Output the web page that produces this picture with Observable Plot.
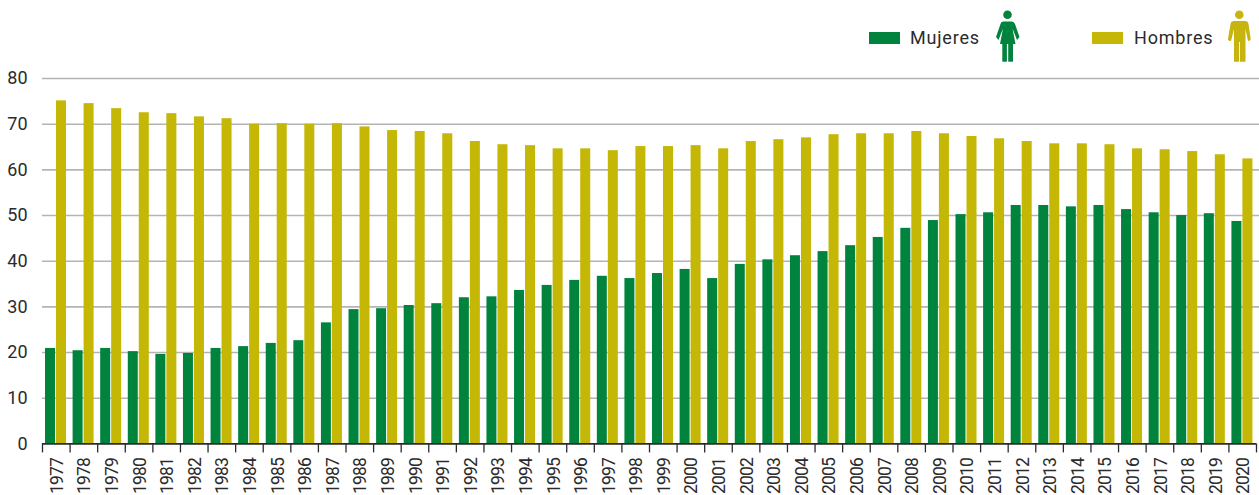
<!DOCTYPE html>
<html lang="es">
<head>
<meta charset="utf-8">
<script src="https://cdn.jsdelivr.net/npm/d3@7"></script>
<script src="https://cdn.jsdelivr.net/npm/@observablehq/plot@0.6"></script>
<style>
html,body{margin:0;padding:0;background:#fff;overflow:hidden}
#legend{position:relative;width:1259px;height:60px;font-family:Roboto,sans-serif;font-size:18px;color:#2b2b2b;letter-spacing:.8px}
#legend>*{position:absolute}
.sw{width:31px;height:12px;top:32px}
.lb{top:27px;line-height:22px}
svg.ic{top:10px;width:24px;height:52px;overflow:visible}
#chart svg{display:block}
#chart g[aria-label="x-axis tick label"] text{letter-spacing:-.8px}
</style>
</head>
<body>
<div id="legend">
  <div class="sw" style="left:869px;background:#00843d"></div>
  <div class="lb" style="left:910px">Mujeres</div>
  <svg class="ic" style="left:996px" viewBox="0 0 24 52"><g fill="#00843d"><circle cx="11.5" cy="4.7" r="4.3"/><path d="M7 11.5H16Q18 11.5 19 14L23.5 27L21 30L16.5 18.5L19.5 34H4L7 18.5L2.5 30L0 27L4.5 14Q5 11.5 7 11.5Z"/><rect x="6.3" y="33" width="4.6" height="18.7"/><rect x="12.2" y="33" width="4.8" height="18.7"/></g></svg>
  <div class="sw" style="left:1092px;background:#c4b705"></div>
  <div class="lb" style="left:1134px">Hombres</div>
  <svg class="ic" style="left:1228px" viewBox="0 0 24 52"><g fill="#c8b40f"><circle cx="11.3" cy="4.7" r="4.3"/><path d="M6 11H17Q20 11 20.5 14L22.7 29Q22.7 31 20 31L17.5 19V51.7H12V32H11V51.7H6V19L3 31Q0 31 0 29L2.5 14Q3 11 6 11Z"/></g></svg>
</div>
<div id="chart"></div>
<script>
const years = d3.range(1977, 2021);
const mujeres = [20.9,20.4,20.9,20.2,19.6,19.8,20.9,21.3,22.0,22.6,26.5,29.4,29.6,30.3,30.7,32.0,32.2,33.6,34.7,35.8,36.7,36.2,37.3,38.2,36.2,39.3,40.3,41.2,42.1,43.4,45.2,47.2,48.9,50.2,50.6,52.2,52.2,51.9,52.2,51.3,50.6,50.0,50.4,48.7];
const hombres = [75.1,74.5,73.4,72.5,72.3,71.6,71.2,70.0,70.1,70.0,70.1,69.4,68.6,68.4,67.9,66.2,65.5,65.3,64.6,64.6,64.2,65.1,65.1,65.3,64.6,66.2,66.6,67.0,67.7,67.9,67.9,68.4,67.9,67.3,66.8,66.2,65.7,65.7,65.5,64.6,64.4,64.0,63.3,62.4];
const yTicks = [0,10,20,30,40,50,60,70,80];
const edges = [...years.map(y => y - 0.5), 2020.5];
const GREEN = "#00843d", YELLOW = "#c4b705", GRID = "#b4b4b4", INK = "#2b2b2b";

const chart = Plot.plot({
  width: 1259,
  height: 435,
  marginTop: 18,
  marginBottom: 51.6,
  marginLeft: 42,
  marginRight: 3,
  style: {background: "#fff", fontFamily: "Roboto, sans-serif", color: INK},
  x: {type: "linear", domain: [1976.5, 2020.5]},
  y: {domain: [0, 80]},
  marks: [
    Plot.ruleY(yTicks.slice(1), {stroke: GRID, strokeWidth: 1.6, insetRight: -3}),
    Plot.rectY(years, {x1: d => d - 0.391, x2: d => d - 0.029, y1: 0, y2: (d, i) => mujeres[i], fill: GREEN}),
    Plot.rectY(years, {x1: d => d + 0.007, x2: d => d + 0.37, y1: 0, y2: (d, i) => hombres[i], fill: YELLOW}),
    Plot.ruleY([0], {stroke: INK, strokeWidth: 1.8}),
    Plot.axisY({ticks: yTicks, label: null, tickSize: 0, tickPadding: 15, fontSize: 18, fill: INK, tickFormat: d => String(d)}),
    Plot.axisX({ticks: edges, label: null, tickSize: 9, stroke: INK, strokeWidth: 1.3, tickFormat: () => ""}),
    Plot.axisX({ticks: years, label: null, tickSize: 0, tickPadding: 14, tickRotate: -90, textAnchor: "end", lineAnchor: "middle", fontSize: 17.5, fill: INK, tickFormat: d => String(d), dx: 1})
  ]
});
document.getElementById("chart").appendChild(chart);
</script>
</body>
</html>
